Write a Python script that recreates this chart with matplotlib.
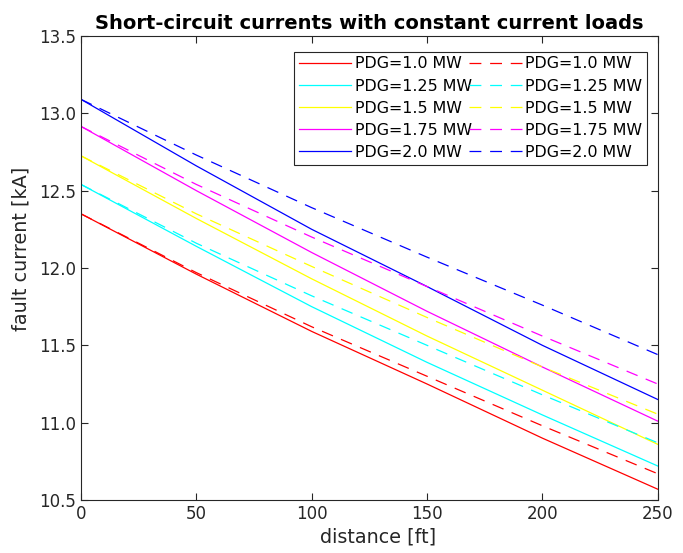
import matplotlib
matplotlib.use("Agg")
import matplotlib.pyplot as plt

distance = [0, 50, 100, 150, 200, 250]
pdg_labels = ["PDG=1.0 MW", "PDG=1.25 MW", "PDG=1.5 MW", "PDG=1.75 MW", "PDG=2.0 MW"]
colors = ["#ff0000", "#00ffff", "#ffff00", "#ff00ff", "#0000ff"]
solid_vals = [
    [12.35, 11.96, 11.59, 11.25, 10.90, 10.57],
    [12.54, 12.14, 11.75, 11.39, 11.05, 10.72],
    [12.725, 12.32, 11.93, 11.56, 11.21, 10.86],
    [12.915, 12.50, 12.10, 11.72, 11.36, 11.01],
    [13.09, 12.66, 12.25, 11.88, 11.50, 11.15],
]
dashed_vals = [
    [12.35, 11.97, 11.62, 11.30, 10.98, 10.67],
    [12.54, 12.16, 11.82, 11.50, 11.18, 10.87],
    [12.725, 12.35, 12.01, 11.68, 11.36, 11.055],
    [12.915, 12.54, 12.20, 11.88, 11.56, 11.25],
    [13.09, 12.73, 12.39, 12.07, 11.76, 11.44],
]

fig = plt.figure(figsize=(6.83, 5.53), dpi=100)
ax = fig.add_axes([0.1186, 0.0958, 0.8444, 0.8392])

for lab, c, v in zip(pdg_labels, colors, solid_vals):
    ax.plot(distance, v, color=c, lw=0.9, label=lab)
for lab, c, v in zip(pdg_labels, colors, dashed_vals):
    ax.plot(distance, v, color=c, lw=0.9, ls=(0, (9.5, 7)), label=lab)

ax.set_xlim(0, 250)
ax.set_ylim(10.5, 13.5)
ax.set_xticks([0, 50, 100, 150, 200, 250])
ax.set_yticks([10.5, 11.0, 11.5, 12.0, 12.5, 13.0, 13.5])
ax.set_yticklabels(["10.5", "11.0", "11.5", "12.0", "12.5", "13.0", "13.5"])
ax.tick_params(direction="in", labelsize=12, top=True, right=True, length=5, colors="#262626")
for s in ax.spines.values():
    s.set_color("#262626")
ax.set_xlabel("distance [ft]", fontsize=13.8, color="#262626", labelpad=3, x=0.515)
ax.set_ylabel("fault current [kA]", fontsize=13.8, color="#262626", labelpad=6, y=0.541)
ax.set_title("Short-circuit currents with constant current loads", fontsize=14,
             fontweight="bold", pad=5)

leg = ax.legend(ncol=2, loc="upper right", bbox_to_anchor=(0.982, 0.966), fontsize=11.4,
                handlelength=3.3, handletextpad=0.25, columnspacing=-0.2,
                labelspacing=0.45, borderpad=0.3, fancybox=False, framealpha=1,
                edgecolor="#262626", borderaxespad=0)
leg.get_frame().set_linewidth(0.8)

fig.savefig("out.png", dpi=100)
